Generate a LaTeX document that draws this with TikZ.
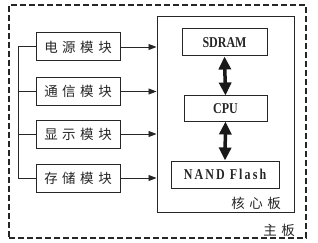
\documentclass[tikz,border=0pt]{standalone}
\usepackage{fontspec}
\usetikzlibrary{arrows.meta}
\newfontfamily\cjk{Noto Sans CJK SC}
\newfontfamily\latin[FakeStretch=0.8]{Liberation Serif}
\newfontfamily\latinsp[FakeStretch=0.8,LetterSpace=14]{Liberation Serif}
\newcommand\cg{\hspace{4.5pt}}
\begin{document}
\begin{tikzpicture}[x=1pt,y=-1pt,
  ink/.style={draw=black!85, line width=1pt},
  modbox/.style={ink, minimum width=84pt, minimum height=28pt, inner sep=0pt, font=\cjk\fontsize{13.5pt}{13.5pt}\selectfont, text=black!85},
  chipbox/.style={ink, inner sep=0pt, font=\latin\bfseries\fontsize{15pt}{15pt}\selectfont, text=black!85},
  modarrow/.style={draw=black!85, line width=0.9pt, -{Triangle[length=8pt,width=6pt]}},
  busarrow/.style={draw=black!90, line width=3.5pt, {Triangle[length=13pt,width=12pt]}-{Triangle[length=13pt,width=12pt]}},
  lbl/.style={inner sep=0pt, font=\cjk\fontsize{13.5pt}{13.5pt}\selectfont, text=black!85}
]
\useasboundingbox (0,0) rectangle (318,243);
\node[draw=black!85, line width=1.3pt, dash pattern=on 6pt off 3pt, minimum width=297pt, minimum height=233pt, inner sep=0pt] (main) at (157.5,121.5) {};
\node[ink, minimum width=137pt, minimum height=195pt, inner sep=0pt] (core) at (225.5,114.5) {};
\node[chipbox, minimum width=85pt, minimum height=27pt] (sdram) at (224.5,42.5) {SDRAM};
\node[chipbox, minimum width=83pt, minimum height=25pt] (cpu) at (225.5,108.5) {CPU};
\node[chipbox, minimum width=108pt, minimum height=27pt, font=\latinsp\bfseries\fontsize{15pt}{15pt}\selectfont] (nand) at (225,174.5) {NAND Flash};
\node[modbox] (m1) at (78,47) {电\cg 源\cg 模\cg 块};
\node[modbox] (m2) at (78,91.5) {通\cg 信\cg 模\cg 块};
\node[modbox] (m3) at (78,134) {显\cg 示\cg 模\cg 块};
\node[modbox] (m4) at (78,178) {存\cg 储\cg 模\cg 块};
\node[lbl, anchor=east] (corelbl) at (281,203) {核\cg 心\cg 板};
\node[lbl, anchor=east] (mainlbl) at (295,230) {主\cg 板};
\coordinate (bus) at (18,0);
\draw[ink] (m1.west -| bus) -- (m4.west -| bus);
\foreach \m in {m1,m2,m3,m4} {
  \draw[ink] (\m.west) -- (\m.west -| bus);
  \draw[modarrow] (\m.east) -- (\m.east -| core.west);
}
\draw[busarrow] (sdram.south) -- (cpu.north);
\draw[busarrow] (cpu.south) -- (nand.north);
\end{tikzpicture}
\end{document}
